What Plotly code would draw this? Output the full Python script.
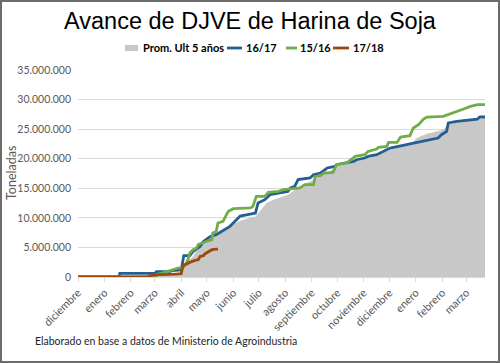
import plotly.graph_objects as go
import pandas as pd

# ---- data (days counted from 1 December of the first season year) ----
inicio = "2016-12-01"
meses = ["diciembre", "enero", "febrero", "marzo", "abril", "mayo", "junio", "julio",
         "agosto", "septiembre", "octubre", "noviembre", "diciembre", "enero",
         "febrero", "marzo"]
dias_fin = 477

dias_prom = [0, 31, 62, 90, 110, 120, 123, 135, 143, 151, 162, 178, 190, 202, 208, 221,
             229, 246, 260, 276, 292, 303, 327, 346, 366, 393, 397, 409, 428, 434, 444,
             464, 477]
prom = [0, 0.05, 0.15, 0.3, 0.5, 0.8, 1.8, 3.5, 5.46, 6.3, 7.44, 8.56, 9.5, 10.0, 10.25,
        12.5, 13.07, 13.92, 15.32, 16.46, 17.58, 18.7, 19.55, 20.39, 21.52, 22.93, 23.5,
        24.23, 24.9, 25.75, 26.14, 26.6, 26.88]

dias_1617 = [0, 48, 49, 90, 92, 108, 110, 121, 124, 131, 135, 143, 147, 155, 162, 168,
             178, 182, 190, 208, 211, 219, 225, 246, 249, 254, 258, 272, 276, 284, 292,
             301, 303, 323, 327, 336, 340, 350, 354, 360, 366, 385, 405, 422, 426, 432,
             434, 444, 468, 471, 477]
s1617 = [0, 0, 0.6, 0.6, 0.9, 0.95, 1.1, 1.2, 3.6, 3.6, 4.33, 5.17, 6.02, 6.86, 7.15,
         7.71, 8.56, 9.13, 10.3, 10.82, 12.51, 13.07, 13.92, 14.47, 15.05, 15.32, 16.46,
         16.74, 17.30, 17.58, 18.43, 18.70, 18.99, 19.55, 19.83, 20.12, 20.39, 20.68,
         20.97, 21.41, 21.81, 22.37, 22.93, 23.50, 24.06, 24.62, 26.04, 26.31, 26.71,
         27.05, 27.05]

dias_1516 = [0, 91, 92, 100, 108, 111, 117, 123, 127, 129, 131, 135, 139, 141, 145, 151,
             157, 158, 162, 164, 170, 176, 182, 202, 205, 209, 219, 223, 235, 241, 260,
             266, 276, 278, 284, 288, 299, 303, 315, 325, 336, 340, 350, 352, 362, 364,
             374, 378, 389, 393, 399, 405, 409, 428, 434, 440, 446, 452, 460, 468, 477]
s1516 = [0, 0, 0.4, 0.73, 1.0, 1.23, 1.52, 1.6, 2.37, 3.0, 4.06, 4.62, 4.9, 5.5, 5.75,
         6.02, 6.31, 7.44, 7.71, 9.13, 9.4, 11.09, 11.55, 11.67, 11.94, 13.63, 13.63,
         14.30, 14.47, 14.76, 15.05, 15.61, 15.61, 17.01, 17.13, 17.58, 17.69, 18.99,
         19.28, 20.39, 20.68, 21.24, 21.64, 21.91, 22.08, 22.76, 22.76, 23.67, 23.89,
         25.19, 25.75, 26.71, 27.05, 27.15, 27.44, 27.73, 28.0, 28.41, 28.85, 29.13, 29.13]

dias_1718 = [0, 82, 84, 90, 115, 121, 123, 127, 131, 137, 141, 143, 147, 149, 153, 157,
             162, 164]
s1718 = [0, 0, 0.2, 0.35, 0.5, 0.55, 1.9, 2.25, 2.47, 2.8, 2.93, 3.48, 3.6, 3.94, 4.33,
         4.62, 4.73, 4.73]

series_nombres = ["Prom. Ult 5 años", "16/17", "15/16", "17/18"]
series_colores = ["#c8c8c8", "#255e91", "#70ad47", "#9e480e"]

# ---- helpers ----
base = pd.Timestamp(inicio)


def fechas(dias):
    return base + pd.to_timedelta(dias, unit="D")


def millones(vals):
    return [v * 1e6 for v in vals]


fig = go.Figure()
fig.add_trace(go.Scatter(x=fechas(dias_prom), y=millones(prom), name=series_nombres[0],
                         mode="lines", fill="tozeroy", fillcolor=series_colores[0],
                         line=dict(width=0, color=series_colores[0])))
for nombre, color, d, s in [(series_nombres[1], series_colores[1], dias_1617, s1617),
                            (series_nombres[2], series_colores[2], dias_1516, s1516),
                            (series_nombres[3], series_colores[3], dias_1718, s1718)]:
    fig.add_trace(go.Scatter(x=fechas(d), y=millones(s), name=nombre, mode="lines",
                             line=dict(width=2.8, color=color)))

tick_fechas = pd.date_range(inicio, periods=len(meses), freq="MS")

L, R, T, B = 78, 15, 70, 86
W, H = 500, 363
pw, ph = W - L - R, H - T - B


def px(x):
    return (x - L) / pw


def py(y):
    return (H - B - y) / ph


FONT = "Lato, Liberation Sans"
annotations = [
    dict(text="Elaborado en base a datos de Ministerio de Agroindustria",
         xref="paper", yref="paper", x=px(33), y=py(341), xanchor="left",
         yanchor="middle", showarrow=False,
         font=dict(family=FONT, size=10.5, color="#262626")),
    dict(text="Toneladas", xref="paper", yref="paper", x=px(11), y=py(173),
         xanchor="center", yanchor="middle", textangle=-90, showarrow=False,
         font=dict(family=FONT, size=12.5, color="#595959")),
]
shapes = [dict(type="rect", xref="paper", yref="paper",
               x0=px(1), x1=px(W - 1), y0=py(H - 1), y1=py(1),
               line=dict(color="#6b6b6b", width=2), layer="above")]

# manual legend (swatch + text) in a single row
leg_y = 48
leg_items = [(125, 138, 141), (227, 242, 244), (286, 297, 298), (333, 349, 351)]
for (x0, x1, xt), nombre, color in zip(leg_items, series_nombres, series_colores):
    if nombre == series_nombres[0]:
        shapes.append(dict(type="rect", xref="paper", yref="paper", x0=px(x0), x1=px(x1),
                           y0=py(leg_y + 3), y1=py(leg_y - 3), fillcolor=color,
                           line=dict(width=0)))
    else:
        shapes.append(dict(type="line", xref="paper", yref="paper", x0=px(x0), x1=px(x1),
                           y0=py(leg_y), y1=py(leg_y), line=dict(color=color, width=2.8)))
    annotations.append(dict(text="<b>" + nombre + "</b>", xref="paper", yref="paper",
                            x=px(xt), y=py(leg_y), xanchor="left", yanchor="middle",
                            showarrow=False,
                            font=dict(family=FONT, size=11, color="#000000")))

fig.update_layout(
    width=W, height=H,
    margin=dict(l=L, r=R, t=T, b=B, autoexpand=False),
    paper_bgcolor="white", plot_bgcolor="white",
    separators=",.",
    showlegend=False,
    hovermode=False,
    title=dict(text="Avance de DJVE de Harina de Soja", x=0.5, xanchor="center",
               y=1 - 21 / H, yanchor="middle",
               font=dict(family="Liberation Sans, Arial", size=23.5, color="#000000")),
    xaxis=dict(type="date", automargin=False,
               range=[base, base + pd.Timedelta(days=dias_fin)],
               tickvals=tick_fechas, ticktext=meses, tickangle=-45,
               showgrid=False, ticks="outside", ticklen=4, tickcolor="#d9d9d9",
               showline=True, linecolor="#d9d9d9", linewidth=1,
               tickfont=dict(family=FONT, size=11, color="#595959")),
    yaxis=dict(range=[0, 35e6], dtick=5e6, tickformat=",d", automargin=False,
               showgrid=True, gridcolor="#d9d9d9", gridwidth=1, zeroline=False,
               ticklabelstandoff=6,
               tickfont=dict(family=FONT, size=10.5, color="#595959")),
    annotations=annotations,
    shapes=shapes,
)

fig.write_html("out.html", config={"displayModeBar": False},
               post_script="document.body.style.margin='0px';"
                           "document.body.style.overflow='hidden';")
